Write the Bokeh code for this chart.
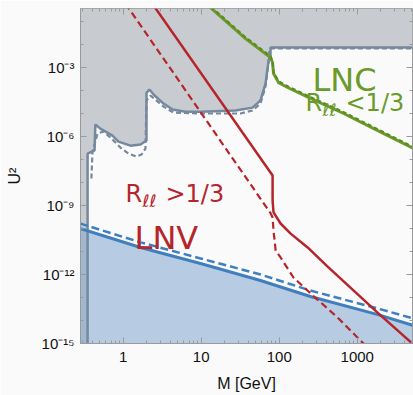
from bokeh.plotting import figure
from bokeh.models import Range1d, FixedTicker, LogAxis, Label
from bokeh.embed import file_html
from bokeh.resources import INLINE

# ---------------- data ----------------
# gray excluded region, solid boundary
gray_M = [0.35, 0.35, 0.43, 0.44, 0.51, 0.73, 0.87, 1.24, 1.67, 1.99, 1.99, 2.17, 2.45,
          3.29, 4.3, 6.3, 9.8, 27.4, 45.5, 57.5, 66.7, 73.0, 77.3, 77.3, 5300]
gray_U = [1e-16, 1.8e-7, 2.5e-7, 3.3e-6, 2.2e-6, 1.1e-6, 6e-7, 4e-7, 4.5e-7, 6.7e-7, 8e-5,
          1.1e-4, 6.7e-5, 2.7e-5, 1.5e-5, 1.2e-5, 1.2e-5, 1.35e-5, 1.8e-5, 3.7e-5, 2e-4,
          2e-3, 3.3e-3, 7.4e-3, 7.4e-3]
# gray, dashed boundary
gray_dash_M = [0.392, 0.404, 0.469, 0.559, 0.708, 0.923, 1.17, 1.48, 1.72, 1.93, 1.99, 2.24,
               3.29, 4.42, 9.8, 31.9, 45.5, 57.5, 66.7, 73.0, 75.2, 5300]
gray_dash_U = [1.5e-8, 2.0e-7, 1.35e-6, 1.65e-6, 8.2e-7, 3.3e-7, 1.8e-7, 1.35e-7, 1.65e-7,
               3e-7, 3.7e-5, 6e-5, 2e-5, 1.1e-5, 1e-5, 1e-5, 1.35e-5, 2.7e-5, 1.5e-4,
               1.65e-3, 6.8e-3, 6.8e-3]
# blue (LNV) bound
blue_M = [0.28, 1.67, 9.8, 57.5, 251, 1840, 5300]
blue_U = [1e-10, 1.5e-11, 3e-12, 5.5e-13, 1.1e-13, 1.8e-14, 6e-15]
blue_dash_U = [1.65e-10, 2.5e-11, 5e-12, 1e-12, 2e-13, 3.3e-14, 1.2e-14]
# red R_ll > 1/3 curves
red_M = [2.45, 82.2, 82.2, 84.5, 104, 140, 231, 417, 1820, 5250]
red_U = [0.5, 2e-8, 1.65e-9, 5e-10, 1.65e-10, 6e-11, 1.5e-11, 2.2e-12, 2.2e-14, 9e-16]
red_dash_M = [1.07, 77.8, 82.2, 84.5, 90, 104, 152, 252, 560, 1280]
red_dash_U = [0.6, 4.5e-10, 3e-10, 8e-11, 1.1e-11, 5.5e-12, 7.4e-13, 1.5e-13, 1.35e-14, 8e-16]
# green R_ll < 1/3 curve
green_M = [11.5, 37, 77.3, 82, 84.5, 98, 128, 252, 670, 1830, 5250]
green_U = [0.6, 1.8e-2, 2.7e-3, 1.65e-3, 5.5e-4, 2.2e-4, 1.35e-4, 4.5e-5, 1e-5, 1.8e-6, 3e-7]
green_dash_U = [u * 1.15 for u in green_U]

x_ticks = [1, 10, 100, 1000]
x_tick_labels = ["1", "10", "100", "1000"]
y_ticks = [1e-15, 1e-12, 1e-9, 1e-6, 1e-3]
y_tick_labels = ["10\u207b\u00b9\u2075", "10\u207b\u00b9\u00b2", "10\u207b\u2079",
                 "10\u207b\u2076", "10\u207b\u00b3"]
x_minor = [m * 10.0 ** k for k in range(-1, 4) for m in range(2, 10)]
y_minor = [10.0 ** k for k in range(-16, 1)]

X0, X1 = 0.284, 5100
Y0, Y1 = 1e-15, 10 ** -0.435

GRAY_FILL = "#c8ccd1"
GRAY_LINE = "#75889d"
BLUE_LINE = "#3f7fbe"
RED = "#b5252b"
GREEN = "#6a9a2a"
BG = "#fafafa"
FRAME = "#9a9a9a"

p = figure(width=413, height=395, x_axis_type="log", y_axis_type="log",
           x_range=Range1d(X0, X1), y_range=Range1d(Y0, Y1),
           output_backend="svg", toolbar_location=None,
           min_border_left=80, min_border_right=1, min_border_top=8, min_border_bottom=52)
p.background_fill_color = BG
p.border_fill_color = BG
p.outline_line_color = FRAME
p.grid.visible = False

# gray excluded region
gx = [0.1] + gray_M + [1e4, 1e4, 0.1]
gy = [1e-16] + gray_U + [gray_U[-1], 10.0, 10.0]
p.patch(gx, gy, fill_color=GRAY_FILL, line_color=None)

# blue region
bx = blue_M + [blue_M[-1], blue_M[0]]
by = blue_U + [1e-16, 1e-16]
p.patch(bx, by, fill_color="#7fa5d0", fill_alpha=0.55, line_color=None)

p.line(gray_M, gray_U, line_color=GRAY_LINE, line_width=2.5)
p.line(gray_dash_M, gray_dash_U, line_color=GRAY_LINE, line_width=2.2, line_dash="5 3")
p.line(blue_M, blue_U, line_color=BLUE_LINE, line_width=3)
p.line(blue_M, blue_dash_U, line_color=BLUE_LINE, line_width=2.5, line_dash="8 4")
p.line(red_M, red_U, line_color=RED, line_width=2.5)
p.line(red_dash_M, red_dash_U, line_color=RED, line_width=2.2, line_dash="7 4")
p.line(green_M, green_U, line_color=GREEN, line_width=3)
p.line(green_M, green_dash_U, line_color="#5c8a20", line_width=2, line_dash="4 3")

# axes styling
def style_axis(ax, labels=True):
    ax.axis_line_color = FRAME
    ax.major_tick_line_color = FRAME
    ax.minor_tick_line_color = FRAME
    ax.major_tick_in = 6
    ax.major_tick_out = 0
    ax.minor_tick_in = 3
    ax.minor_tick_out = 0
    ax.major_label_text_font = "Liberation Sans"
    ax.major_label_text_font_size = "15px"
    ax.major_label_text_color = "#111111"
    ax.axis_label_text_font = "Liberation Sans"
    ax.axis_label_text_font_size = "16px"
    ax.axis_label_text_font_style = "normal"
    ax.axis_label_text_color = "#111111"
    if not labels:
        ax.major_label_text_font_size = "1px"
        ax.major_label_text_alpha = 0
        ax.major_label_standoff = 0

xa = p.xaxis[0]
xa.ticker = FixedTicker(ticks=x_ticks, minor_ticks=x_minor)
xa.major_label_overrides = dict(zip(x_ticks, x_tick_labels))
xa.axis_label = "M [GeV]"
style_axis(xa)
xa.major_label_standoff = 8
xa.axis_label_standoff = 10

ya = p.yaxis[0]
ya.ticker = FixedTicker(ticks=y_ticks, minor_ticks=y_minor)
ya.major_label_overrides = dict(zip(y_ticks, y_tick_labels))
ya.axis_label = "U\u00b2"
style_axis(ya)
ya.major_label_standoff = 6
ya.axis_label_standoff = 16

# mirrored frame ticks, pinned to the frame edges so they take no border space
ra = LogAxis(ticker=FixedTicker(ticks=y_ticks, minor_ticks=y_minor), fixed_location=X1)
style_axis(ra, labels=False)
p.add_layout(ra, "right")
ta = LogAxis(ticker=FixedTicker(ticks=x_ticks, minor_ticks=x_minor), fixed_location=Y1)
style_axis(ta, labels=False)
p.add_layout(ta, "above")

# annotations
FONT = "DejaVu Sans"
def lab(x, y, text, color, size, dx=0, dy=0, style="normal"):
    p.add_layout(Label(x=x, y=y, x_offset=dx, y_offset=dy, text=text, text_color=color,
                       text_font=FONT, text_font_size=size, text_font_style=style,
                       text_baseline="alphabetic", text_align="left"))

lab(267, 3.0e-4, "LNC", GREEN, "32px")
lab(217, 3.0e-5, "R", GREEN, "24px")
lab(217, 3.0e-5, "\u2113\u2113", GREEN, "17px", dx=17, dy=-7, style="italic")
lab(217, 3.0e-5, "<1/3", GREEN, "24px", dx=40)
lab(1.07, 3.3e-9, "R", RED, "24px")
lab(1.07, 3.3e-9, "\u2113\u2113", RED, "17px", dx=17, dy=-7, style="italic")
lab(1.07, 3.3e-9, ">1/3", RED, "24px", dx=40)
lab(1.40, 3.7e-11, "LNV", RED, "32px")

open("out.html", "w").write(file_html(p, INLINE))
